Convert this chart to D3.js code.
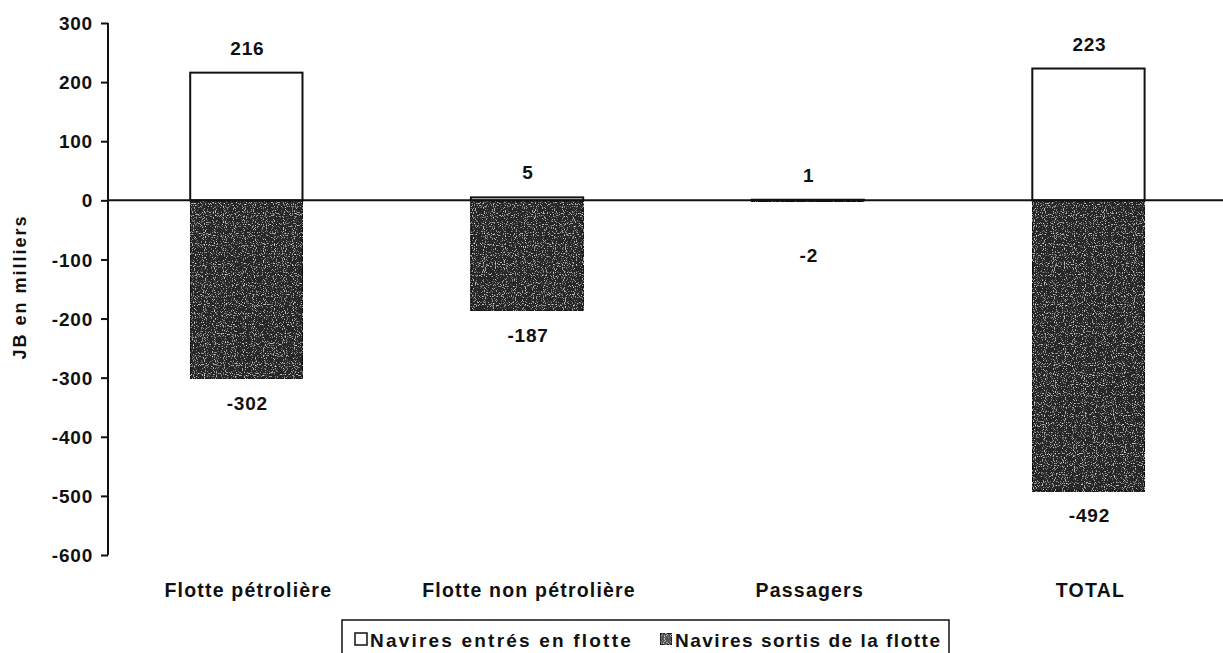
<!DOCTYPE html>
<html>
<head>
<meta charset="utf-8">
<script src="https://cdn.jsdelivr.net/npm/d3@7"></script>
<style>
  body { margin: 0; background: #fff; }
  text { font-family: "Liberation Sans", Arial, sans-serif; font-weight: bold; fill: #111; }
</style>
</head>
<body>
<script>
// data
var categories = ["Flotte pétrolière", "Flotte non pétrolière", "Passagers", "TOTAL"];
var entres = [216, 5, 1, 223];
var sortis = [-302, -187, -2, -492];
var yTicks = [300, 200, 100, 0, -100, -200, -300, -400, -500, -600];
var seriesNames = ["Navires entrés en flotte", "Navires sortis de la flotte"];

var width = 1223, height = 653;
var svg = d3.select("body").append("svg").attr("width", width).attr("height", height);

// speckle texture for the dark bars
var defs = svg.append("defs");
var f = defs.append("filter").attr("id", "speckle").attr("x", 0).attr("y", 0).attr("width", 1).attr("height", 1);
f.append("feTurbulence").attr("type", "fractalNoise").attr("baseFrequency", 0.9).attr("numOctaves", 1).attr("seed", 3).attr("result", "noise");
f.append("feColorMatrix").attr("in", "noise").attr("type", "matrix")
    .attr("values", "0 0 0 0 1  0 0 0 0 1  0 0 0 0 1  3.2 0 0 0 -1.8")
    .attr("result", "dots");
f.append("feComposite").attr("in", "dots").attr("in2", "SourceGraphic").attr("operator", "in").attr("result", "dotsIn");
var merge = f.append("feMerge");
merge.append("feMergeNode").attr("in", "SourceGraphic");
merge.append("feMergeNode").attr("in", "dotsIn");

var axisX = 108;
var x = d3.scaleBand()
    .domain(categories)
    .range([axisX - 2, axisX - 2 + 4 * 280.7])
    .paddingInner(0.6)
    .paddingOuter(0.3);

var y = d3.scaleLinear().domain([-600, 300]).range([555, 23]);

// y axis
var yAxis = svg.append("g")
    .attr("transform", "translate(" + axisX + ",0)")
    .call(d3.axisLeft(y).tickValues(yTicks).tickSize(7).tickPadding(8).tickFormat(function (d) { return String(d); }));
yAxis.select(".domain").attr("stroke", "#111").attr("stroke-width", 2).attr("d", "M0," + y(300) + "V" + y(-600));
yAxis.selectAll(".tick line").attr("stroke", "#111").attr("stroke-width", 2);
yAxis.selectAll(".tick text").style("font-size", "19px").style("letter-spacing", "0.8px")
    .attr("fill", "#111").attr("dy", "0.35em");

svg.append("text")
    .attr("transform", "translate(26," + 287 + ") rotate(-90)")
    .attr("text-anchor", "middle")
    .style("font-size", "18px")
    .style("letter-spacing", "2px")
    .text("JB en milliers");

// bars
var bars = svg.append("g");
bars.selectAll(".neg").data(categories).enter().append("rect")
    .attr("class", "neg")
    .attr("x", function (d) { return x(d); })
    .attr("width", x.bandwidth())
    .attr("y", y(0))
    .attr("height", function (d, i) { return y(sortis[i]) - y(0); })
    .attr("fill", "#262626")
    .attr("stroke", "#111")
    .attr("stroke-width", 1.5)
    .attr("filter", "url(#speckle)");

bars.selectAll(".pos").data(categories).enter().append("rect")
    .attr("class", "pos")
    .attr("x", function (d) { return x(d); })
    .attr("width", x.bandwidth())
    .attr("y", function (d, i) { return y(entres[i]); })
    .attr("height", function (d, i) { return y(0) - y(entres[i]); })
    .attr("fill", "#fff")
    .attr("stroke", "#111")
    .attr("stroke-width", 2);

// zero line
svg.append("line")
    .attr("x1", axisX).attr("x2", width)
    .attr("y1", y(0)).attr("y2", y(0))
    .attr("stroke", "#111").attr("stroke-width", 2);

// value labels
var labels = svg.append("g").style("font-size", "19px").attr("text-anchor", "middle");
labels.selectAll(".lp").data(categories).enter().append("text")
    .attr("x", function (d) { return x(d) + x.bandwidth() / 2 + 1; })
    .attr("y", function (d, i) { return y(entres[i]) - 18; })
    .style("letter-spacing", "0.8px")
    .text(function (d, i) { return entres[i]; });
labels.selectAll(".ln").data(categories).enter().append("text")
    .attr("x", function (d) { return x(d) + x.bandwidth() / 2 + 1; })
    .attr("y", function (d, i) { return Math.max(y(sortis[i]) + 31, y(0) + 62); })
    .style("letter-spacing", "0.8px")
    .text(function (d, i) { return sortis[i]; });

// category labels
svg.append("g").selectAll("text").data(categories).enter().append("text")
    .attr("x", function (d) { return x(d) + x.bandwidth() / 2 + 2; })
    .attr("y", 597)
    .attr("text-anchor", "middle")
    .style("font-size", "19.5px")
    .style("letter-spacing", "1.2px")
    .text(function (d) { return d; });

// legend
var lg = svg.append("g");
lg.append("rect").attr("x", 342).attr("y", 620).attr("width", 607).attr("height", 40)
    .attr("fill", "#fff").attr("stroke", "#111").attr("stroke-width", 1.5);
lg.append("rect").attr("x", 355).attr("y", 633).attr("width", 12).attr("height", 12)
    .attr("fill", "#fff").attr("stroke", "#111").attr("stroke-width", 1.5);
lg.append("text").attr("x", 370).attr("y", 647).style("font-size", "19px").style("letter-spacing", "2.2px")
    .text(seriesNames[0]);
lg.append("rect").attr("x", 660).attr("y", 633).attr("width", 12).attr("height", 12)
    .attr("fill", "#555").attr("stroke", "#111").attr("stroke-width", 1.5).attr("filter", "url(#speckle)");
lg.append("text").attr("x", 675).attr("y", 647).style("font-size", "19px").style("letter-spacing", "1.5px")
    .text(seriesNames[1]);
</script>
</body>
</html>
